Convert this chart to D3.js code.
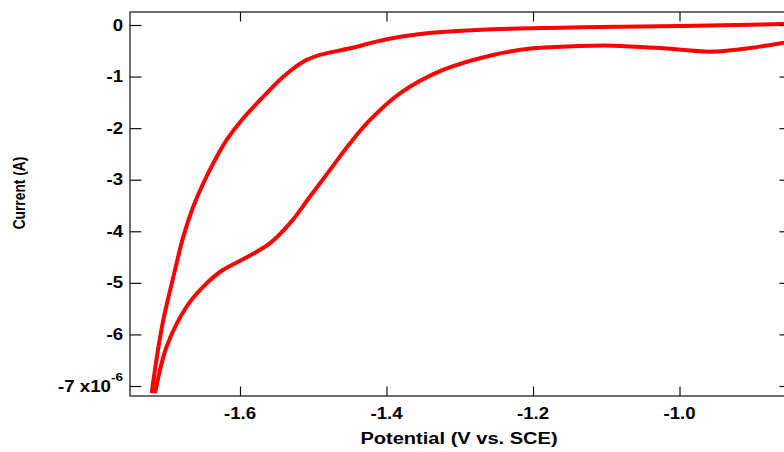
<!DOCTYPE html>
<html>
<head>
<meta charset="utf-8">
<script src="https://cdn.jsdelivr.net/npm/d3@7"></script>
<style>
  html, body { margin: 0; padding: 0; background: #fff; }
  svg { display: block; font-family: "Liberation Sans", Arial, sans-serif; font-weight: bold; }
</style>
</head>
<body>
<svg id="chart" width="784" height="452"></svg>
<script>
// ---- data (potential in V vs SCE, current in units of 1e-6 A) ----
const potentialUpper = [-1.7206, -1.712, -1.7047, -1.6887, -1.6774, -1.6638, -1.6501, -1.6365, -1.6182, -1.5955, -1.5682, -1.5409, -1.5136, -1.4908, -1.4498, -1.3997, -1.3451, -1.2546, -1.1358, -0.9993, -0.8573];
const currentUpper   = [-7.138, -6.30, -5.717, -4.748, -4.103, -3.521, -3.068, -2.680, -2.229, -1.808, -1.390, -1.002, -0.711, -0.581, -0.452, -0.277, -0.161, -0.083, -0.045, -0.019, 0.019];
const potentialLower = [-1.7160, -1.7001, -1.6728, -1.6501, -1.6250, -1.5900, -1.5590, -1.5317, -1.5044, -1.4771, -1.4498, -1.4225, -1.3816, -1.3229, -1.2546, -1.2000, -1.1358, -1.0908, -1.0225, -0.9584, -0.9174, -0.8573];
const currentLower   = [-7.138, -6.234, -5.459, -5.072, -4.765, -4.500, -4.231, -3.843, -3.327, -2.810, -2.293, -1.841, -1.324, -0.872, -0.581, -0.452, -0.407, -0.401, -0.452, -0.517, -0.471, -0.343];
const xTicks = [-1.6, -1.4, -1.2, -1.0];
const xTickLabels = ["-1.6", "-1.4", "-1.2", "-1.0"];
const yTicks = [0, -1, -2, -3, -4, -5, -6, -7];
const yTickLabels = ["0", "-1", "-2", "-3", "-4", "-5", "-6", "-7 x10"];
const yExponent = "-6";
const xTitle = "Potential (V vs. SCE)";
const yTitle = "Current (A)";

// ---- layout ----
const L = 130, R = 791, T = 12, B = 396;
const SX = 1.18; // horizontal stretch of the original rendering

const svg = d3.select("#chart");
const x = d3.scaleLinear().domain([-1.7502, -0.8478]).range([L, R]);
const y = d3.scaleLinear().domain([-7.194, 0.252]).range([B, T]);

// curves
const line = d3.line().x(d => x(d[0])).y(d => y(d[1])).curve(d3.curveCatmullRom.alpha(0.5));
const upper = d3.zip(potentialUpper, currentUpper);
const lower = d3.zip(potentialLower, currentLower);
[upper, lower].forEach(data => {
  svg.append("path").datum(data).attr("d", line)
    .attr("fill", "none").attr("stroke", "#ff0000").attr("stroke-width", 4)
    .attr("stroke-linejoin", "round").attr("stroke-linecap", "butt");
});

// frame
svg.append("rect").attr("x", L).attr("y", T).attr("width", R - L).attr("height", B - T)
  .attr("fill", "none").attr("stroke", "#111").attr("stroke-width", 1.2);

// axes with inward ticks
const tkX = 9.5, tkY = 11.5;
const gB = svg.append("g").attr("transform", `translate(0,${B})`)
  .call(d3.axisBottom(x).tickValues(xTicks).tickSizeInner(-tkX).tickSizeOuter(0).tickFormat(""));
const gT = svg.append("g").attr("transform", `translate(0,${T})`)
  .call(d3.axisTop(x).tickValues(xTicks).tickSizeInner(-tkX).tickSizeOuter(0).tickFormat(""));
const gL = svg.append("g").attr("transform", `translate(${L},0)`)
  .call(d3.axisLeft(y).tickValues(yTicks).tickSizeInner(-tkY).tickSizeOuter(0).tickFormat(""));
const gR = svg.append("g").attr("transform", `translate(${R},0)`)
  .call(d3.axisRight(y).tickValues(yTicks).tickSizeInner(-tkY).tickSizeOuter(0).tickFormat(""));
[gB, gT, gL, gR].forEach(g => {
  g.select(".domain").remove();
  g.selectAll(".tick line").attr("stroke", "#111").attr("stroke-width", 1.2);
});

// x tick labels
xTicks.forEach((v, i) => {
  svg.append("text").attr("transform", `translate(${x(v)},419) scale(${SX},1)`)
    .attr("text-anchor", "middle").attr("font-size", 15.8).attr("fill", "#000")
    .text(xTickLabels[i]);
});

// y tick labels
yTicks.forEach((v, i) => {
  const t = svg.append("text").attr("transform", `translate(123,${y(v) + 5.6}) scale(${SX},1)`)
    .attr("text-anchor", "end").attr("font-size", 15.8).attr("fill", "#000")
    .attr("xml:space", "preserve");
  t.append("tspan").text(yTickLabels[i]);
  if (i === yTicks.length - 1) {
    t.append("tspan").attr("font-size", 11.5).attr("dy", -11).text(yExponent);
  }
});

// axis titles
svg.append("text").attr("transform", `translate(459,444) scale(${SX},1)`)
  .attr("text-anchor", "middle").attr("font-size", 17).attr("fill", "#000").text(xTitle);
svg.append("text").attr("transform", `translate(25,193) scale(${SX},1) rotate(-90)`)
  .attr("text-anchor", "middle").attr("font-size", 13.8).attr("fill", "#000").text(yTitle);
</script>
</body>
</html>
